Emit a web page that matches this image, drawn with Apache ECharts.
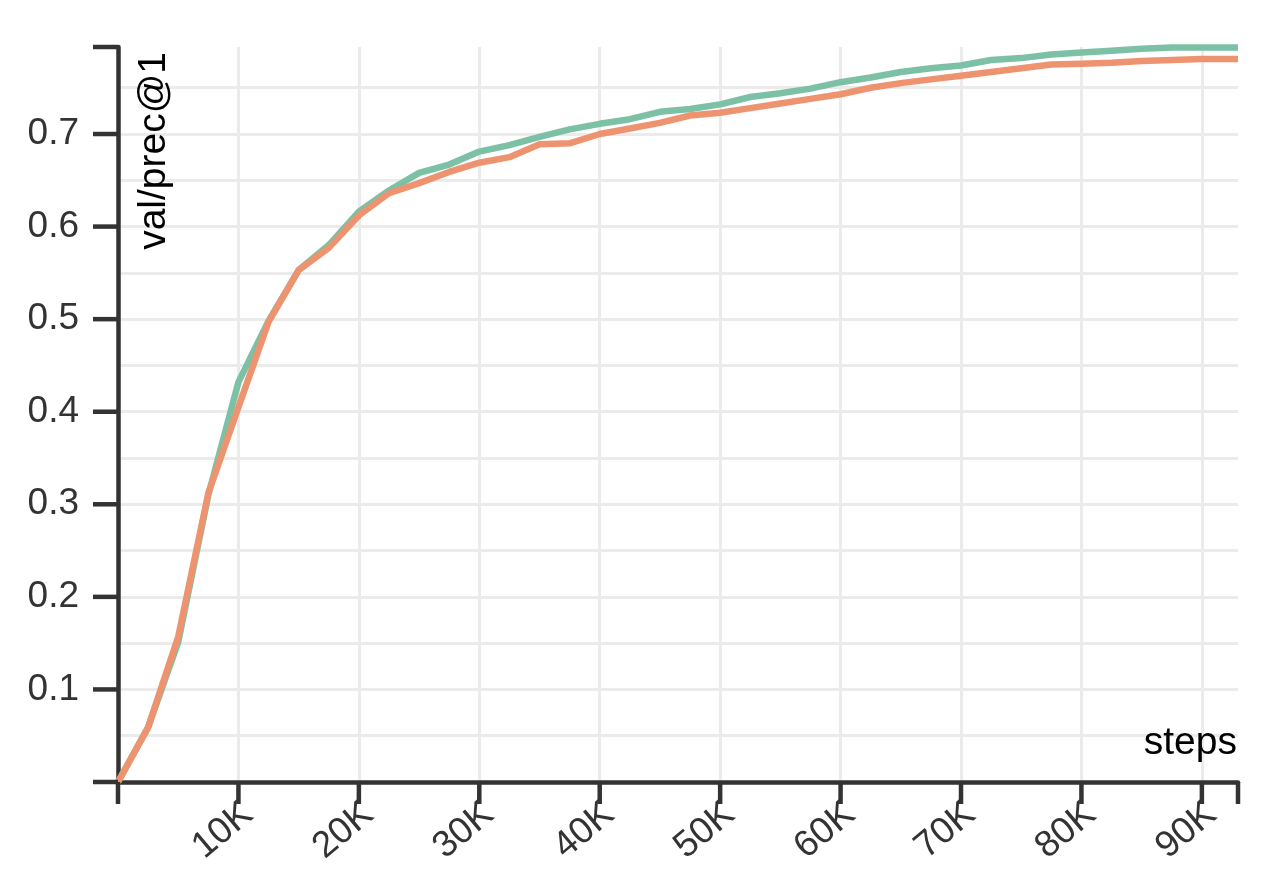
<!DOCTYPE html>
<html>
<head>
<meta charset="utf-8">
<script src="https://cdn.jsdelivr.net/npm/echarts@6/dist/echarts.min.js"></script>
<style>
html,body{margin:0;padding:0;background:#fff;}
#chart{width:1274px;height:874px;}
</style>
</head>
<body>
<div id="chart"></div>
<script>
const steps = [0, 2500, 5000, 7500, 10000, 12500, 15000, 17500, 20000, 22500, 25000, 27500, 30000, 32500, 35000, 37500, 40000, 42500, 45000, 47500, 50000, 52500, 55000, 57500, 60000, 62500, 65000, 67500, 70000, 72500, 75000, 77500, 80000, 82500, 85000, 87500, 90000, 92500, 93000];
const greenRun = [0.0, 0.059, 0.151, 0.310, 0.432, 0.498, 0.553, 0.580, 0.616, 0.639, 0.658, 0.667, 0.681, 0.688, 0.697, 0.705, 0.711, 0.716, 0.724, 0.727, 0.732, 0.740, 0.744, 0.749, 0.756, 0.761, 0.767, 0.771, 0.774, 0.780, 0.782, 0.786, 0.788, 0.790, 0.792, 0.7935, 0.7935, 0.7935, 0.7935];
const orangeRun = [0.0, 0.059, 0.157, 0.312, 0.405, 0.497, 0.553, 0.577, 0.612, 0.636, 0.647, 0.659, 0.669, 0.675, 0.689, 0.690, 0.700, 0.706, 0.712, 0.720, 0.723, 0.728, 0.733, 0.738, 0.743, 0.750, 0.755, 0.759, 0.763, 0.767, 0.771, 0.775, 0.776, 0.777, 0.779, 0.780, 0.781, 0.781, 0.781];
const xMax = 93000;
const yMax = 0.794;
const xTickValues = [0, 10000, 20000, 30000, 40000, 50000, 60000, 70000, 80000, 90000, 93000];
const yTickValues = [0, 0.1, 0.2, 0.3, 0.4, 0.5, 0.6, 0.7, 0.794];
const yTickLabels = ['0.1', '0.2', '0.3', '0.4', '0.5', '0.6', '0.7'];
const xTickLabels = ['10K', '20K', '30K', '40K', '50K', '60K', '70K', '80K', '90K'];
const xAxisName = 'steps';
const yAxisName = 'val/prec@1';

const FONT = '"Liberation Sans", Arial, Helvetica, sans-serif';
const AXIS_COLOR = '#333';
const chart = echarts.init(document.getElementById('chart'));

function pair(xs, ys) { return xs.map((x, i) => [x, ys[i]]); }

chart.setOption({
  animation: false,
  backgroundColor: '#fff',
  grid: { left: 118, right: 36, top: 47, bottom: 92, containLabel: false },
  xAxis: {
    type: 'value',
    min: 0, max: xMax, interval: 10000,
    axisLine: { show: true, onZero: false, lineStyle: { color: AXIS_COLOR, width: 4.5 } },
    axisTick: { show: false },
    axisLabel: {
      show: true, showMinLabel: false, showMaxLabel: false,
      rotate: 40, margin: 16, verticalAlign: 'top', lineHeight: 30,
      color: '#333', fontSize: 37, fontFamily: FONT,
      formatter: function (v) {
        const lbl = (v / 1000) + 'K';
        return (v % 10000 === 0 && xTickLabels.indexOf(lbl) >= 0) ? lbl : '';
      }
    },
    splitLine: { show: true, showMinLine: false, showMaxLine: false, lineStyle: { color: '#ebebeb', width: 3 } }
  },
  yAxis: {
    type: 'value',
    min: 0, max: yMax, interval: 0.1,
    axisLine: { show: true, onZero: false, lineStyle: { color: AXIS_COLOR, width: 4.5 } },
    axisTick: { show: false },
    axisLabel: {
      show: true, showMinLabel: false, showMaxLabel: false,
      margin: 39, color: '#333', fontSize: 37, fontFamily: FONT,
      formatter: function (v) {
        const s = (Math.round(v * 10) / 10).toFixed(1);
        return (Math.abs(v * 10 - Math.round(v * 10)) < 1e-6 && yTickLabels.indexOf(s) >= 0) ? s : '';
      }
    },
    splitLine: { show: true, showMinLine: false, showMaxLine: false, lineStyle: { color: '#ebebeb', width: 3 } },
    minorTick: { show: false, splitNumber: 2 },
    minorSplitLine: { show: true, lineStyle: { color: '#ebebeb', width: 3 } }
  },
  series: [
    {
      type: 'line', data: pair(steps, greenRun), showSymbol: false, smooth: false,
      lineStyle: { color: '#7cc1a5', width: 6.5 }, itemStyle: { color: '#7cc1a5' }, z: 3
    },
    {
      type: 'line', data: pair(steps, orangeRun), showSymbol: false, smooth: false,
      lineStyle: { color: '#ee936f', width: 6.5 }, itemStyle: { color: '#ee936f' }, z: 4
    }
  ]
});

// Tick marks placed through the library's own axis scales.
const tickGraphics = [];
const X_TICK_LEN = 22, Y_TICK_LEN = 25;
xTickValues.forEach(function (v) {
  const p = chart.convertToPixel({ gridIndex: 0 }, [v, 0]);
  tickGraphics.push({
    type: 'line', z: 100, silent: true,
    shape: { x1: p[0], y1: p[1], x2: p[0], y2: p[1] + X_TICK_LEN },
    style: { stroke: AXIS_COLOR, lineWidth: 4.5 }
  });
});
yTickValues.forEach(function (v) {
  const p = chart.convertToPixel({ gridIndex: 0 }, [0, v]);
  tickGraphics.push({
    type: 'line', z: 100, silent: true,
    shape: { x1: p[0] - Y_TICK_LEN, y1: p[1], x2: p[0], y2: p[1] },
    style: { stroke: AXIS_COLOR, lineWidth: 4.5 }
  });
});
tickGraphics.push({
  type: 'text', x: 154, y: 52, rotation: Math.PI / 2, z: 10,
  style: { text: yAxisName, font: '39px ' + FONT, fill: '#000', textAlign: 'right', textVerticalAlign: 'middle' }
});
tickGraphics.push({
  type: 'text', x: 1237, y: 743, z: 10,
  style: { text: xAxisName, font: '39px ' + FONT, fill: '#000', textAlign: 'right', textVerticalAlign: 'middle' }
});
chart.setOption({ graphic: tickGraphics });
</script>
</body>
</html>
